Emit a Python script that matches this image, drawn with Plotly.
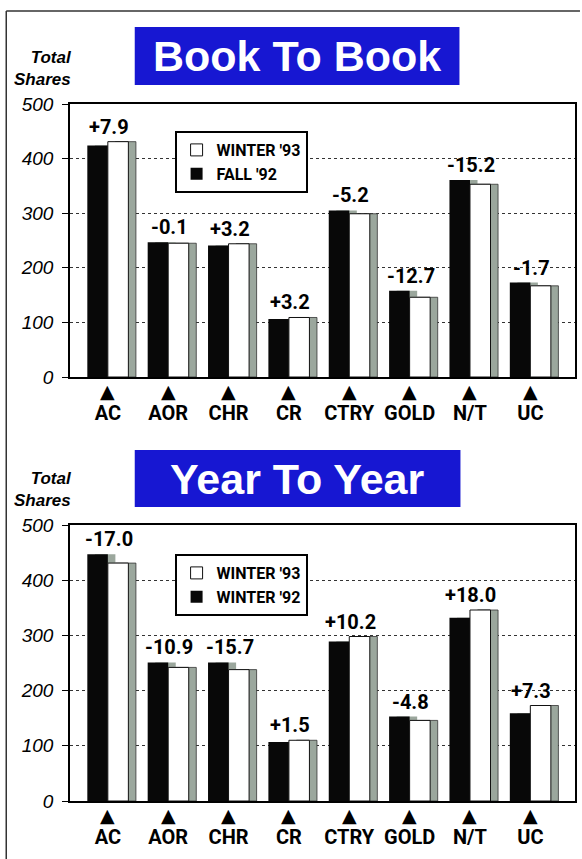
import plotly.graph_objects as go

categories = ["AC", "AOR", "CHR", "CR", "CTRY", "GOLD", "N/T", "UC"]

# Book To Book
btb_fall92 = [424, 247, 241, 106, 305, 158, 361, 173]
btb_winter93 = [431, 245, 244, 109, 299, 146, 353, 167]
btb_change = ["+7.9", "-0.1", "+3.2", "+3.2", "-5.2", "-12.7", "-15.2", "-1.7"]

# Year To Year
yty_winter92 = [447, 251, 251, 107, 289, 153, 332, 159]
yty_winter93 = [431, 242, 238, 110, 298, 146, 346, 173]
yty_change = ["-17.0", "-10.9", "-15.7", "+1.5", "+10.2", "-4.8", "+18.0", "+7.3"]

y_ticks = [0, 100, 200, 300, 400, 500]

COND = "Roboto, Liberation Sans, Arial, sans-serif"
SANS = "Liberation Sans, Arial, Helvetica, sans-serif"
SHADOW = "#9ba79d"
BLUE = "#1717d2"

W = 0.34
SH = 0.125

fig = go.Figure()

def add_pair(prev_vals, cur_vals, prev_name, xa, ya, legend):
    fig.add_trace(go.Bar(x=categories, y=prev_vals, offset=-W + SH, width=W,
                         marker=dict(color=SHADOW, line=dict(width=0)),
                         showlegend=False, hoverinfo="skip", xaxis=xa, yaxis=ya))
    fig.add_trace(go.Bar(x=categories, y=prev_vals, offset=-W, width=W, name=prev_name,
                         marker=dict(color="#080808", line=dict(width=0)),
                         legend=legend, xaxis=xa, yaxis=ya))
    fig.add_trace(go.Bar(x=categories, y=cur_vals, offset=SH, width=W,
                         marker=dict(color=SHADOW, line=dict(color="#333", width=0.8)),
                         showlegend=False, hoverinfo="skip", xaxis=xa, yaxis=ya))
    fig.add_trace(go.Bar(x=categories, y=cur_vals, offset=0, width=W, name="WINTER '93",
                         marker=dict(color="white", line=dict(color="#111", width=1)),
                         legend=legend, xaxis=xa, yaxis=ya))

add_pair(btb_fall92, btb_winter93, "FALL '92", "x", "y", "legend")
add_pair(yty_winter92, yty_winter93, "WINTER '92", "x2", "y2", "legend2")

annotations = []
def add_labels(prev_vals, cur_vals, changes, xa, ya):
    for c, p, q, t in zip(categories, prev_vals, cur_vals, changes):
        annotations.append(dict(x=c, y=max(p, q), xref=xa, yref=ya, text=t, showarrow=False,
                                xanchor="center", yanchor="bottom", xshift=1, yshift=1,
                                font=dict(family=COND, size=20, color="black", weight="bold")))
        annotations.append(dict(x=c, y=0, xref=xa, yref=ya, text="▲", showarrow=False,
                                xanchor="center", yanchor="middle", yshift=-14,
                                font=dict(family="DejaVu Sans", size=19, color="black")))

add_labels(btb_fall92, btb_winter93, btb_change, "x", "y")
add_labels(yty_winter92, yty_winter93, yty_change, "x2", "y2")

# px -> paper helpers (plot area: x 70..577, y 104..801)
def px(X):
    return (X - 70) / 507.0
def py(Y):
    return (801 - Y) / 697.0

for title, y0, y1 in [("Book To Book", 27, 85), ("Year To Year", 450, 507)]:
    annotations.append(dict(x=(px(135) + px(461)) / 2, y=(py(y0) + py(y1)) / 2, xref="paper", yref="paper",
                            text=title, showarrow=False, xanchor="center", yanchor="middle",
                            font=dict(family=SANS, size=43, color="white", weight="bold")))

for Y in [69, 489]:
    annotations.append(dict(x=px(74), y=py(Y), xref="paper", yref="paper", text="Total<br>Shares",
                            showarrow=False, xanchor="right", yanchor="middle", align="right",
                            font=dict(family=SANS, size=17, color="black", weight="bold", style="italic")))

shapes = [
    dict(type="rect", xref="paper", yref="paper", x0=px(135), x1=px(461), y0=py(85), y1=py(27),
         fillcolor=BLUE, line=dict(width=0), layer="below"),
    dict(type="rect", xref="paper", yref="paper", x0=px(135), x1=px(462), y0=py(507), y1=py(450),
         fillcolor=BLUE, line=dict(width=0), layer="below"),
    dict(type="line", xref="paper", yref="paper", x0=px(6), x1=px(582), y0=py(11), y1=py(11),
         line=dict(color="#333", width=1.5)),
    dict(type="line", xref="paper", yref="paper", x0=px(6), x1=px(6), y0=py(11), y1=py(859),
         line=dict(color="#333", width=1.5)),
]

xaxis_common = dict(type="category", categoryorder="array", categoryarray=categories,
                    range=[-0.627, 7.74], showline=True, mirror=True, linecolor="black", linewidth=1.5,
                    ticks="", ticklabelstandoff=17, showgrid=False,
                    tickfont=dict(family=COND, size=20, color="black", weight="bold"))
yaxis_common = dict(range=[0, 500], tickvals=y_ticks, ticktext=[str(v) for v in y_ticks],
                    showline=True, mirror=True, linecolor="black", linewidth=1.5,
                    ticks="outside", ticklen=6, tickcolor="black", ticklabelstandoff=5,
                    showgrid=True, gridcolor="#333", gridwidth=1.2, griddash="3px,3px",
                    zeroline=False,
                    tickfont=dict(family=SANS, size=19, color="black", style="italic"))

legend_common = dict(xanchor="left", yanchor="top", bgcolor="white", bordercolor="black", borderwidth=2,
                     traceorder="reversed",
                     font=dict(family=COND, size=16, color="black", weight="bold"))

fig.update_layout(
    width=582, height=859,
    margin=dict(l=70, r=5, t=104, b=58),
    paper_bgcolor="white", plot_bgcolor="white",
    barmode="overlay",
    xaxis=dict(**xaxis_common, domain=[0, 1], anchor="y"),
    yaxis=dict(**yaxis_common, domain=[py(377), 1.0], anchor="x"),
    xaxis2=dict(**xaxis_common, domain=[0, 1], anchor="y2"),
    yaxis2=dict(**yaxis_common, domain=[0, py(525)], anchor="x2"),
    legend=dict(**legend_common, x=px(175), y=py(131)),
    legend2=dict(**legend_common, x=px(175), y=py(554)),
    annotations=annotations,
    shapes=shapes,
)

fig.write_html("out.html", post_script="document.body.style.margin='0';",
               config={"displayModeBar": False})
